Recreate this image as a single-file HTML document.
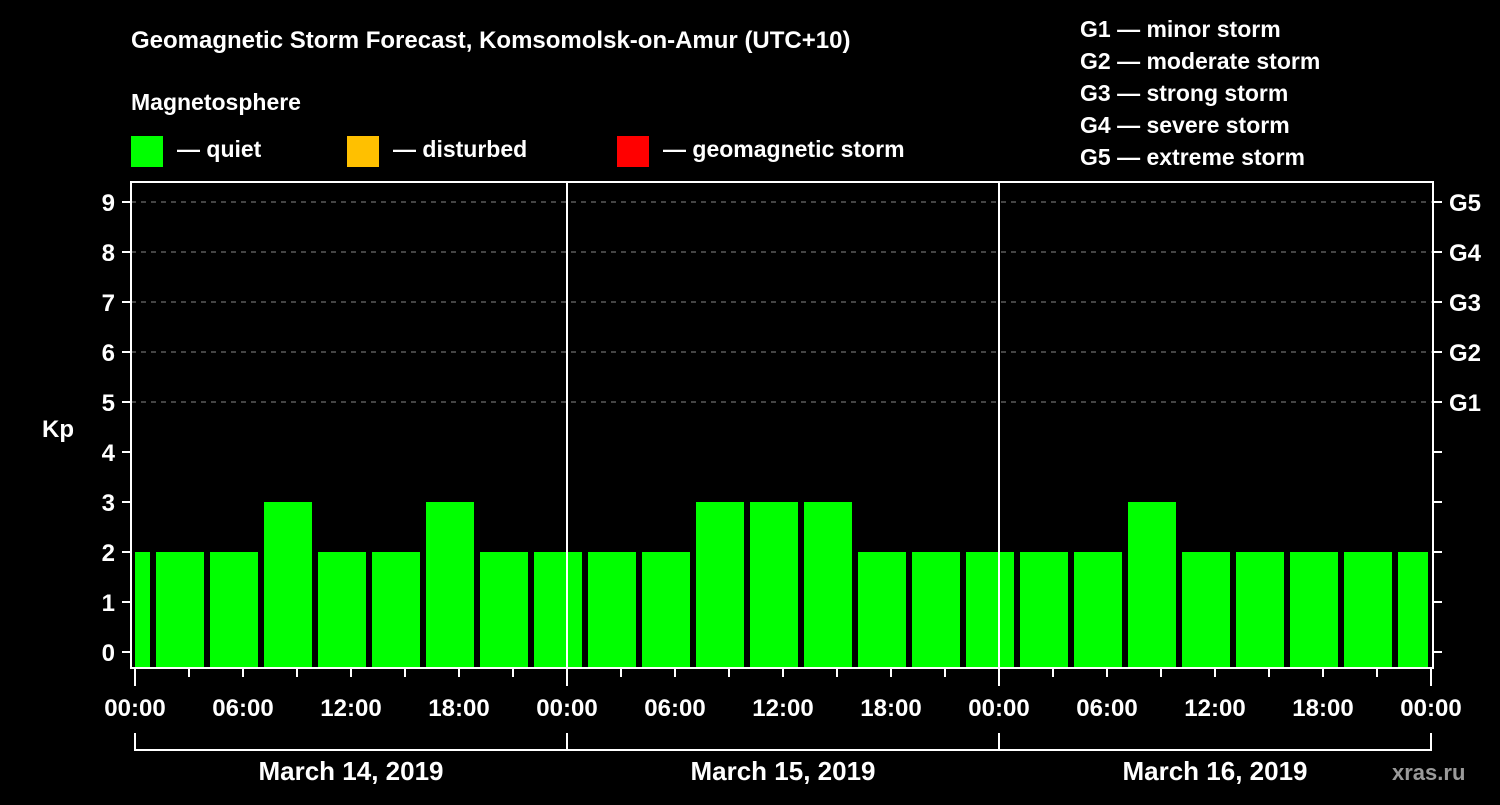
<!DOCTYPE html>
<html><head><meta charset="utf-8"><style>
body{margin:0;background:#000;}
svg text{font-family:"Liberation Sans",Arial,sans-serif;font-weight:bold;fill:#fff;}
</style></head><body>
<svg width="1500" height="800" viewBox="0 0 1500 800">
<text x="131" y="48" font-size="24">Geomagnetic Storm Forecast, Komsomolsk-on-Amur (UTC+10)</text>
<text x="131" y="110" font-size="23">Magnetosphere</text>
<rect x="131" y="136" width="32" height="31" fill="#00ff00"/>
<text x="177" y="157" font-size="23">— quiet</text>
<rect x="347" y="136" width="32" height="31" fill="#ffc000"/>
<text x="393" y="157" font-size="23">— disturbed</text>
<rect x="617" y="136" width="32" height="31" fill="#ff0000"/>
<text x="663" y="157" font-size="23">— geomagnetic storm</text>
<g font-size="23">
<text x="1080" y="37">G1 — minor storm</text>
<text x="1080" y="69">G2 — moderate storm</text>
<text x="1080" y="101">G3 — strong storm</text>
<text x="1080" y="133">G4 — severe storm</text>
<text x="1080" y="165">G5 — extreme storm</text>
</g>
<text x="42" y="437" font-size="24">Kp</text>
<g id="grid"></g>
<g id="bars"></g>
<g id="axes"></g>
<text x="1392" y="780" font-size="22" fill="#999" style="fill:#9a9a9a">xras.ru</text>
</svg>
<script>
const kpValues=[2, 2,2,3,2,2,3,2,2, 2,2,3,3,3,2,2,2, 2,2,3,2,2,2,2,2];
const yTicks=[0,1,2,3,4,5,6,7,8,9];
const gLabels=["G1","G2","G3","G4","G5"];
const timeLabels=["00:00","06:00","12:00","18:00","00:00","06:00","12:00","18:00","00:00","06:00","12:00","18:00","00:00"];
const dayLabels=["March 14, 2019","March 15, 2019","March 16, 2019"];
const NS="http://www.w3.org/2000/svg";
const L=131,R=1433,T=182,B=668,X0=135,PXH=18;
const y=v=>652-v*50;
const x=h=>X0+h*PXH;
function mk(tag,attrs,parent){const e=document.createElementNS(NS,tag);for(const k in attrs)e.setAttribute(k,attrs[k]);document.getElementById(parent).appendChild(e);return e;}
yTicks.forEach(v=>{
 if(v>=5){const g=mk('line',{x1:L,x2:R,y1:y(v),y2:y(v),stroke:'#888','stroke-dasharray':'5,5','stroke-width':1},'grid');
 
 }
});
kpValues.forEach((v,i)=>{
 const k=i-1;let s=x(1+3*k)+3,e=s+48;
 s=Math.max(s,X0);e=Math.min(e,1428);
 const c=v>=5?'#ff0000':(v>=4?'#ffc000':'#00ff00');
 const r=mk('rect',{x:s,y:y(v),width:e-s,height:B-y(v),fill:c},'bars');
 
 
});
const fr=mk('rect',{x:L,y:T,width:R-L,height:B-T,fill:'none',stroke:'#fff','stroke-width':2},'axes');


[1,2].forEach(d=>{const l=mk('line',{x1:x(24*d),x2:x(24*d),y1:T,y2:B,stroke:'#fff','stroke-width':2},'axes');
 
 });
yTicks.forEach(v=>{
 mk('line',{x1:122,x2:L,y1:y(v),y2:y(v),stroke:'#fff','stroke-width':2},'axes');
 mk('line',{x1:R,x2:1442,y1:y(v),y2:y(v),stroke:'#fff','stroke-width':2},'axes');
 const t=mk('text',{x:115,y:y(v)+9,'font-size':24,'text-anchor':'end'},'axes');t.textContent=v;
 
 
});
gLabels.forEach((g,i)=>{const t=mk('text',{x:1449,y:y(5+i)+9,'font-size':24},'axes');t.textContent=g;
 
 });
for(let h=0;h<=72;h+=3){const day=h%24==0;
 mk('line',{x1:x(h),x2:x(h),y1:B,y2:day?686:677,stroke:'#fff','stroke-width':2},'axes');}
timeLabels.forEach((s,i)=>{const t=mk('text',{x:x(6*i),y:716,'font-size':24,'text-anchor':'middle'},'axes');t.textContent=s;
 
 });
mk('path',{d:`M${x(0)} 733V750H${x(72)}V733M${x(24)} 733V750M${x(48)} 733V750`,stroke:'#fff','stroke-width':2,fill:'none'},'axes');
dayLabels.forEach((s,i)=>{const t=mk('text',{x:x(24*i+12),y:780,'font-size':26,'text-anchor':'middle'},'axes');t.textContent=s;
 
 });
</script>
</body></html>
